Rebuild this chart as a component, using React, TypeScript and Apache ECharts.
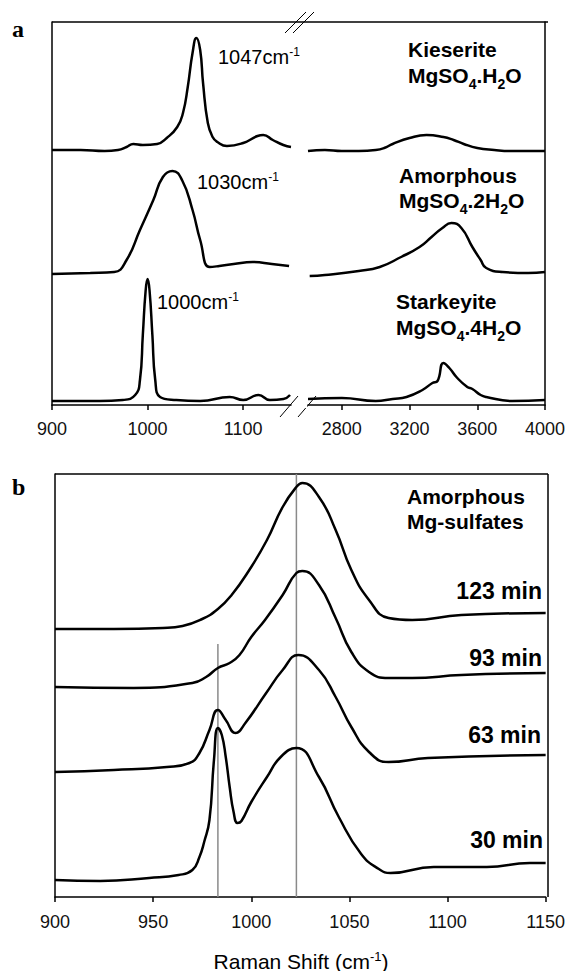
import React, { useEffect, useRef } from "react";
import * as echarts from "echarts";

// ---- Panel a: axis ticks ----
const lowTicks = [900, 1000, 1100];
const highTicks = [2800, 3200, 3600, 4000];
// ---- Panel b: axis ticks ----
const bTicks = [900, 950, 1000, 1050, 1100, 1150];

// ---- Panel a spectra (Raman shift cm-1, stacked intensity a.u.) ----
const kieseriteLow = [
  [900, 255], [930, 255], [955, 254], [969, 255], [978, 258], [985, 261], [995, 260], [1010, 261],
  [1020, 267], [1031, 278], [1037, 292], [1042, 318], [1047, 352], [1051, 367], [1055, 355],
  [1058, 322], [1063, 282], [1068, 268], [1073, 263], [1083, 259], [1100, 262], [1115, 269],
  [1121, 270], [1131, 265], [1142, 260], [1150, 258],
];
const kieseriteHigh = [
  [2600, 254], [2700, 255], [2800, 254], [2900, 254], [3000, 255], [3050, 257], [3100, 261],
  [3200, 267], [3300, 270], [3400, 268], [3460, 265], [3520, 261], [3600, 257], [3700, 255],
  [3800, 254], [3900, 254], [4000, 254],
];
const amorphousLow = [
  [900, 131], [940, 132], [965, 133], [978, 145], [992, 175], [1006, 205], [1016, 228],
  [1026, 234], [1036, 225], [1047, 195], [1055, 165], [1065, 138], [1075, 139], [1090, 141],
  [1110, 143], [1130, 141], [1148, 139],
];
const amorphousHigh = [
  [2610, 129], [2700, 130], [2900, 134], [3024, 138], [3150, 148], [3259, 158], [3330, 168],
  [3394, 177], [3447, 182], [3506, 177], [3571, 158], [3620, 145], [3653, 137], [3750, 133],
  [3900, 132], [4000, 133],
];
const starkeyiteLow = [
  [900, 4], [950, 4], [974, 5], [987, 10], [992, 25], [995, 70], [998, 115], [1000, 126],
  [1002, 115], [1005, 70], [1008, 25], [1013, 8], [1030, 5], [1055, 4], [1086, 8], [1100, 5],
  [1116, 10], [1128, 5], [1142, 6], [1149, 10],
];
const starkeyiteHigh = [
  [2600, 6], [2800, 7], [3000, 4], [3100, 6], [3182, 8], [3276, 15], [3335, 22], [3365, 24],
  [3400, 42], [3435, 37], [3482, 27], [3541, 18], [3571, 16], [3620, 10], [3653, 8], [3806, 4],
  [4000, 5],
];

// ---- Panel b spectra (dehydration time series) ----
const min123 = [
  [900, 268], [930, 268], [955, 269], [965, 271], [975, 278], [983, 288], [990, 302], [999, 327],
  [1008, 357], [1016, 390], [1023, 410], [1026, 414], [1034.5, 400], [1043, 367], [1051, 327],
  [1060, 297], [1070, 279], [1082, 277], [1107, 282], [1150, 284],
];
const min93 = [
  [900, 210], [940, 209], [970, 214], [977, 220], [983, 229], [989, 234], [994, 242], [1000, 260],
  [1007, 277], [1016, 302], [1023, 324], [1026, 326], [1034.5, 312], [1043, 279], [1051, 245],
  [1060, 225], [1070, 219], [1082, 219], [1107, 222], [1150, 224],
];
const min63 = [
  [900, 125], [930, 127], [957, 130], [968.5, 134], [973.6, 144], [978.7, 167], [983, 187],
  [987, 177], [992, 164], [997, 174], [1007.6, 204], [1016, 227], [1024, 242], [1034.5, 227],
  [1043, 200], [1051, 170], [1060, 145], [1070, 135], [1090, 139], [1150, 142],
];
const min30 = [
  [900, 17], [923, 16], [948, 19], [963, 22], [970, 27], [973.6, 40], [976, 55], [978.7, 77],
  [981, 137], [983, 169], [985, 162], [987, 140], [989, 110], [991, 85], [993, 74], [995, 76],
  [1000, 95], [1008, 120], [1015, 140], [1023, 149], [1034.5, 120], [1044.6, 80], [1056, 43],
  [1065, 28], [1071, 24], [1093, 30], [1120, 30], [1142, 34], [1150, 34],
];
const markerLines = [983, 1023];
const markerTops = [253, 423];

const FONT = "'Liberation Sans', Arial, Helvetica, sans-serif";
const SERIF = "'Liberation Serif', 'Times New Roman', serif";

export default function App() {
  const ref = useRef<HTMLDivElement>(null);
  useEffect(() => {
    if (!ref.current) return;
    const chart = echarts.init(ref.current, null, { renderer: "svg" });

    const trace = (data: number[][], xi: number, yi: number) => ({
      type: "line",
      data,
      xAxisIndex: xi,
      yAxisIndex: yi,
      showSymbol: false,
      smooth: 0.5,
      lineStyle: { color: "#000", width: 2.5 },
      silent: true,
      z: 3,
    });

    const axisLabelStyle = {
      fontFamily: FONT, fontSize: 18, color: "#111",
      formatter: (v: number) => String(v),
    };
    const sup = { fontFamily: FONT, fontSize: 12, verticalAlign: "top", lineHeight: 22, color: "#111" };
    const reg = { fontFamily: FONT, fontSize: 20, lineHeight: 22, color: "#111" };
    const boldRich = {
      b: { fontFamily: FONT, fontSize: 21, fontWeight: "bold", lineHeight: 24, color: "#000" },
      s: { fontFamily: FONT, fontSize: 14, fontWeight: "bold", lineHeight: 24, verticalAlign: "bottom", padding: [0, 0, -4, 0], color: "#000" },
    };

    const textEl = (x: number, y: number, text: string, rich: any, align = "left") => ({
      type: "text",
      x,
      y,
      silent: true,
      style: { text, rich, align, verticalAlign: "middle", fill: "#000" },
    });

    const line = (x1: number, y1: number, x2: number, y2: number, w = 1.5) => ({
      type: "line",
      silent: true,
      shape: { x1, y1, x2, y2 },
      style: { stroke: "#000", lineWidth: w },
    });

    const minStyle = { m: { fontFamily: FONT, fontSize: 23, fontWeight: "bold", color: "#000" } };

    const option: any = {
      animation: false,
      backgroundColor: "#fff",
      grid: [
        { left: 52, top: 22, width: 239, height: 383 },
        { left: 308, top: 22, width: 240, height: 383 },
        { left: 55, top: 474, width: 493, height: 423 },
      ],
      xAxis: [
        {
          type: "value", gridIndex: 0, min: 900, max: 1150, interval: 100,
          axisLine: { show: true, lineStyle: { color: "#000", width: 1.5 } },
          axisTick: { show: true, inside: false, length: 5, lineStyle: { color: "#000", width: 1.5 }, customValues: lowTicks },
          axisLabel: { ...axisLabelStyle, margin: 15, customValues: lowTicks },
          splitLine: { show: false },
        },
        {
          type: "value", gridIndex: 1, min: 2600, max: 4000,
          axisLine: { show: true, lineStyle: { color: "#000", width: 1.5 } },
          axisTick: { show: true, inside: false, length: 5, lineStyle: { color: "#000", width: 1.5 }, customValues: highTicks },
          axisLabel: { ...axisLabelStyle, margin: 15, customValues: highTicks },
          splitLine: { show: false },
        },
        {
          type: "value", gridIndex: 2, min: 900, max: 1150, interval: 50,
          axisLine: { show: true, lineStyle: { color: "#000", width: 1.5 } },
          axisTick: { show: true, inside: false, length: 5, lineStyle: { color: "#000", width: 1.5 }, customValues: bTicks },
          axisLabel: { ...axisLabelStyle, margin: 16, customValues: bTicks },
          splitLine: { show: false },
        },
      ],
      yAxis: [
        {
          type: "value", gridIndex: 0, min: 0, max: 383,
          axisLine: { show: true, lineStyle: { color: "#000", width: 1.5 } },
          axisTick: { show: false }, axisLabel: { show: false }, splitLine: { show: false },
        },
        {
          type: "value", gridIndex: 1, min: 0, max: 383, position: "right",
          axisLine: { show: true, lineStyle: { color: "#000", width: 1.5 } },
          axisTick: { show: false }, axisLabel: { show: false }, splitLine: { show: false },
        },
        {
          type: "value", gridIndex: 2, min: 0, max: 423,
          axisLine: { show: true, lineStyle: { color: "#000", width: 1.5 } },
          axisTick: { show: false }, axisLabel: { show: false }, splitLine: { show: false },
        },
      ],
      series: [
        trace(kieseriteLow, 0, 0),
        trace(amorphousLow, 0, 0),
        trace(starkeyiteLow, 0, 0),
        trace(kieseriteHigh, 1, 1),
        trace(amorphousHigh, 1, 1),
        trace(starkeyiteHigh, 1, 1),
        ...markerLines.map((m, i) => ({
          type: "line",
          xAxisIndex: 2,
          yAxisIndex: 2,
          data: [[m, 0], [m, markerTops[i]]],
          showSymbol: false,
          silent: true,
          lineStyle: { color: "#8a8a8a", width: 1.5 },
          z: 2,
        })),
        trace(min123, 2, 2),
        trace(min93, 2, 2),
        trace(min63, 2, 2),
        trace(min30, 2, 2),
      ],
      graphic: [
        // panel a frame top + break marks
        line(52, 22, 548, 22),
        line(285, 33, 306, 12, 1),
        line(293, 33, 314, 12, 1),
        { type: "rect", silent: true, shape: { x: 292, y: 403, width: 15, height: 5 }, style: { fill: "#fff" }, z: 100 },
        line(280, 417, 298, 396, 1),
        line(298, 417, 316, 396, 1),
        // panel b frame
        line(55, 474, 548, 474),
        line(548, 474, 548, 897),
        // panel letters
        { type: "text", x: 12, y: 29, silent: true, style: { text: "a", fontFamily: SERIF, fontSize: 24, fontWeight: "bold", fill: "#000", verticalAlign: "middle" } },
        { type: "text", x: 12, y: 487, silent: true, style: { text: "b", fontFamily: SERIF, fontSize: 24, fontWeight: "bold", fill: "#000", verticalAlign: "middle" } },
        // peak annotations
        textEl(218, 57, "{n|1047cm}{s|-1}", { n: reg, s: sup }),
        textEl(197, 182, "{n|1030cm}{s|-1}", { n: reg, s: sup }),
        textEl(157, 302, "{n|1000cm}{s|-1}", { n: reg, s: sup }),
        // mineral labels
        textEl(408, 49, "{b|Kieserite}", boldRich),
        textEl(408, 75, "{b|MgSO}{s|4}{b|.H}{s|2}{b|O}", boldRich),
        textEl(399, 175, "{b|Amorphous}", boldRich),
        textEl(399, 200, "{b|MgSO}{s|4}{b|.2H}{s|2}{b|O}", boldRich),
        textEl(396, 301, "{b|Starkeyite}", boldRich),
        textEl(396, 327, "{b|MgSO}{s|4}{b|.4H}{s|2}{b|O}", boldRich),
        // panel b labels
        textEl(407, 496, "{b|Amorphous}", boldRich),
        textEl(407, 521, "{b|Mg-sulfates}", boldRich),
        textEl(542, 591, "{m|123 min}", minStyle, "right"),
        textEl(542, 658, "{m|93 min}", minStyle, "right"),
        textEl(541, 735, "{m|63 min}", minStyle, "right"),
        textEl(543, 840, "{m|30 min}", minStyle, "right"),
        // axis title
        textEl(301, 961, "{n|Raman Shift (cm}{s|-1}{n|)}", {
          n: { fontFamily: FONT, fontSize: 21, lineHeight: 22, color: "#111" },
          s: { fontFamily: FONT, fontSize: 13, lineHeight: 22, verticalAlign: "top", color: "#111" },
        }, "center"),
      ],
    };

    chart.setOption(option);
    return () => chart.dispose();
  }, []);

  return (
    <div
      ref={ref}
      style={{ position: "absolute", left: 0, top: 0, width: 568, height: 971, background: "#fff" }}
    />
  );
}
